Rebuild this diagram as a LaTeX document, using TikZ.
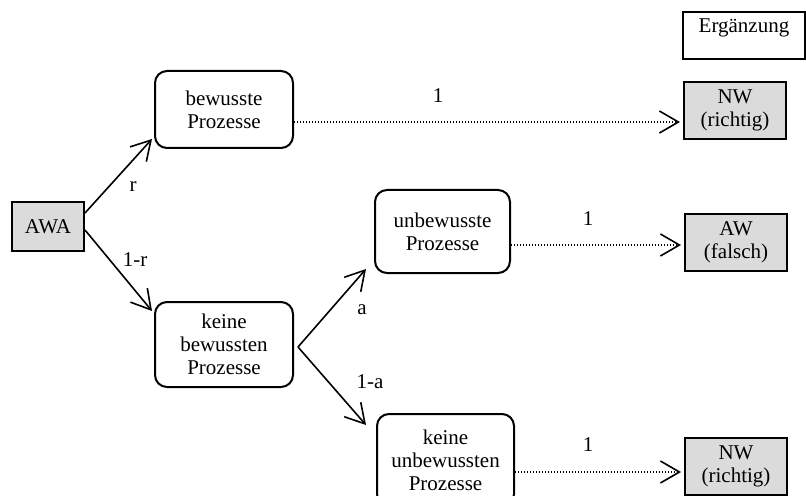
\documentclass[tikz,border=0pt]{standalone}
\usepackage{fontspec}
\setmainfont{Liberation Serif}
\usetikzlibrary{arrows.meta}
\definecolor{boxgray}{gray}{0.86}
\begin{document}
\begin{tikzpicture}[x=0.5pt,y=-0.5pt,
  every node/.style={font=\fontsize{10.5}{11.5}\selectfont, align=center},
  proc/.style={draw, line width=1pt, rounded corners=6pt, inner sep=0pt},
  result/.style={draw, line width=1pt, fill=boxgray, inner sep=0pt,
    minimum width=51pt, minimum height=28.5pt},
  branch/.style={line width=0.8pt,
    -{Straight Barb[length=9.5pt,width=11pt,line width=0.8pt]}},
  guess/.style={line width=0.6pt, dash pattern=on 0.6pt off 0.9pt,
    -{Straight Barb[length=9.5pt,width=11pt,line width=0.8pt]}}]
  \useasboundingbox (0,0) rectangle (806,496);
  % legend
  \node[draw, line width=1pt, inner sep=0pt, minimum width=61pt,
    minimum height=23.5pt, text height=8pt, text depth=10.9pt]
    (erg) at (744,35.5) {Ergänzung};
  % start and end states
  \node[result, minimum width=36pt, minimum height=24.5pt] (awa) at (48,226.5) {AWA};
  \node[result] (nw1) at (735,110.5) {NW\\(richtig)};
  \node[result] (aw) at (736,242.5) {AW\\(falsch)};
  \node[result] (nw2) at (736,466.5) {NW\\(richtig)};
  % processes
  \node[proc, minimum width=69pt, minimum height=38.5pt] (bew) at (224,109.5) {bewusste\\Prozesse};
  \node[proc, minimum width=67.5pt, minimum height=41.5pt] (unb) at (442.5,231.5) {unbewusste\\Prozesse};
  \node[proc, minimum width=69pt, minimum height=42.5pt] (kbw) at (224,344.5) {keine\\bewussten\\Prozesse};
  \node[proc, minimum width=68.5pt, minimum height=46pt] (kub) at (445.5,460) {keine\\unbewussten\\Prozesse};
  % branches
  \draw[branch] ([yshift=6.75pt]awa.east) -- ([shift={(-1pt,5pt)}]bew.south west);
  \draw[branch] ([yshift=-1.75pt]awa.east) -- ([shift={(-1pt,-5pt)}]kbw.north west);
  \coordinate (fork) at ([shift={(2pt,-1.25pt)}]kbw.east);
  \draw[branch] (fork) -- ([shift={(-4pt,2.5pt)}]unb.south west);
  \draw[branch] (fork) -- ([shift={(-5pt,-6pt)}]kub.north west);
  % answers
  \coordinate (d1) at ([yshift=-6.25pt]bew.east);
  \coordinate (d2) at ([yshift=-6.75pt]unb.east);
  \coordinate (d3) at ([yshift=-6pt]kub.east);
  \draw[guess, shorten >=1.5pt] (d1) -- (d1 -| nw1.west);
  \draw[guess, shorten >=1.5pt] (d2) -- (d2 -| aw.west);
  \draw[guess, shorten >=1.5pt] (d3) -- (d3 -| nw2.west);
  % probabilities
  \node (lr) at (133,187) {r};
  \node (l1r) at (135,260) {1-r};
  \node (la) at (362,310) {a};
  \node (l1a) at (370,382) {1-a};
  \node (l1) at (438,96) {1};
  \node (l2) at (588,219) {1};
  \node (l3) at (588,445) {1};
\end{tikzpicture}
\end{document}
